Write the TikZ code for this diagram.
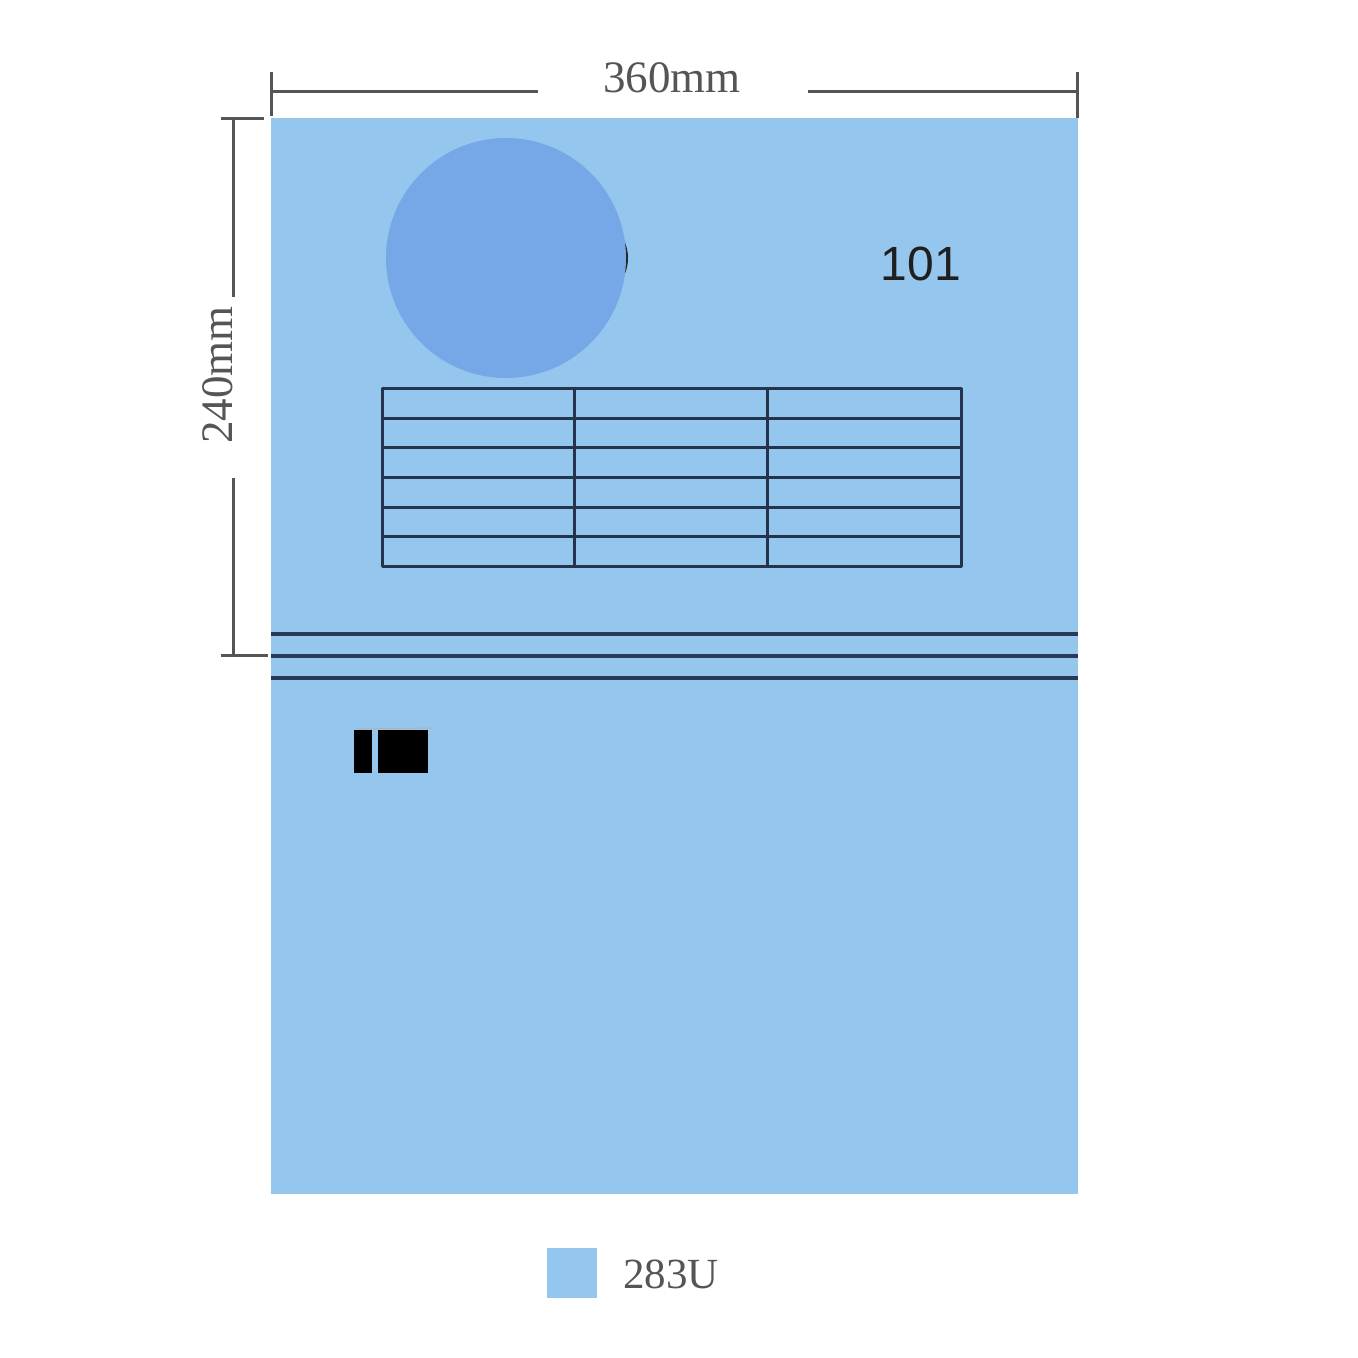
\documentclass[tikz,border=0pt]{standalone}
\usepackage{fontspec}
\setmainfont{Liberation Serif}
\newfontfamily\sansf{Liberation Sans}
\definecolor{sheet}{RGB}{148,198,238}
\definecolor{disc}{RGB}{118,168,232}
\definecolor{navy}{RGB}{40,58,85}
\definecolor{dimgray}{RGB}{85,85,85}
\begin{document}
\begin{tikzpicture}[x=1pt,y=-1pt,
  dimline/.style={draw=dimgray,line width=3pt},
  rule/.style={draw=navy,line width=3.4pt},
  grid/.style={draw=navy!90!black,line width=3pt},
  dimtext/.style={text=dimgray,font=\fontsize{45}{50}\selectfont,inner sep=0pt}]
\useasboundingbox (0,0) rectangle (1358,1358);
% sheet
\fill[sheet] (271,118) rectangle (1078,1194);
% disc with dark sliver
\fill[black!85] (586,258) circle (42);
\fill[disc] (506,258) circle (120);
% number
\node[inner sep=0pt,font=\sansf\fontsize{48}{50}\selectfont,text=black!88] (num) at (921,264) {101};
% table
\draw[grid,line join=round] (382,388) rectangle (961,566);
\foreach \y in {418,447,477,507,536} \draw[grid] (382,\y) -- (961,\y);
\foreach \x in {574,767} \draw[grid] (\x,388) -- (\x,566);
% three rules
\foreach \y in {634,656,678} \draw[rule] (271,\y) -- (1078,\y);
% black marks
\fill[black] (354,730) rectangle (372,773);
\fill[black] (378,730) rectangle (428,773);
\draw[gray!60,line width=1pt] (356,729) -- (433,728);
% top dimension
\node[dimtext] (w) at (672,78) {360mm};
\coordinate (wl) at (271,91);
\coordinate (wr) at (1077,91);
\draw[dimline] (wl) -- (538,91);
\draw[dimline] (808,91) -- (wr);
\draw[dimline] (271,72) -- (271,116);
\draw[dimline] (1077,72) -- (1077,118);
% left dimension
\node[dimtext,rotate=90] (h) at (218,375) {240mm};
\coordinate (ht) at (233,118);
\coordinate (hb) at (233,655);
\draw[dimline] (ht) -- (233,297);
\draw[dimline] (233,478) -- (hb);
\draw[dimline] (221,118) -- (264,118);
\draw[dimline] (221,655) -- (268,655);
% legend
\fill[sheet] (547,1248) rectangle (597,1298);
\node[dimtext,anchor=base west,font=\fontsize{43}{48}\selectfont] (leg) at (623,1288) {283U};
\end{tikzpicture}
\end{document}
